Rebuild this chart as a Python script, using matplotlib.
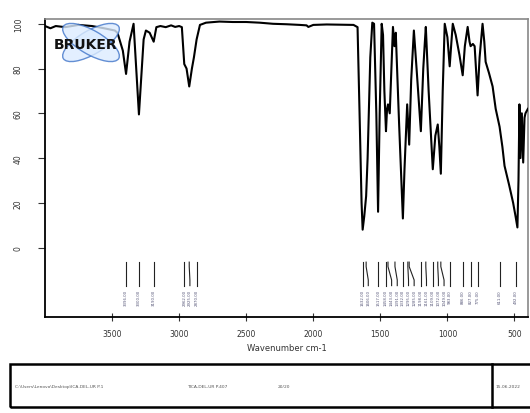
"""
IR spectrum (Bruker OPUS style) with peak picks and footer box.
"""
import numpy as np
import matplotlib
matplotlib.use('Agg')
import matplotlib.pyplot as plt
from matplotlib.patches import Ellipse, Rectangle

# spectrum: wavenumber (cm-1) / transmittance (%)
wavenumber = [4000, 3960, 3920, 3850, 3750, 3650, 3560, 3480, 3460, 3420, 3396, 3370,
              3340, 3300, 3265, 3248, 3220, 3190, 3170, 3140, 3100, 3060, 3030, 3000,
              2980, 2962, 2945, 2925, 2905, 2890, 2870, 2845, 2800, 2700, 2600, 2500,
              2400, 2300, 2200, 2100, 2050, 2037, 2000, 1900, 1800, 1700, 1670, 1655,
              1640, 1632, 1620, 1606, 1595, 1575, 1560, 1547, 1530, 1517, 1505, 1490,
              1480, 1470, 1458, 1450, 1443, 1430, 1406, 1395, 1385, 1360, 1332, 1320,
              1300, 1285, 1270, 1250, 1230, 1198, 1180, 1168, 1161, 1140, 1109, 1090,
              1072, 1060, 1049, 1035, 1020, 1000, 983, 970, 960, 938, 910, 886,
              870, 849, 835, 827, 810, 797, 787, 775, 760, 738, 725, 715,
              690, 663, 640, 611, 590, 574, 540, 510, 492, 478, 470, 463,
              455, 445, 435, 425, 418, 400]
transmittance = [99, 98, 99, 98.5, 99.5, 99, 98, 97, 96, 88, 77.6, 92,
                 100, 59.5, 93, 97, 96, 92, 98.5, 99, 98.5, 99.3, 98.6, 99,
                 98.5, 82, 80, 72, 80, 85, 93, 99.5, 100.5, 101, 100.8, 100.8,
                 100.5, 100, 99.8, 99.5, 99.3, 98.6, 99.5, 99.7, 99.6, 99.5, 98.5, 60,
                 20, 8, 14, 23, 40, 85, 100.5, 100, 60, 16, 60, 100,
                 95, 70, 52, 62, 64, 60, 98.6, 90, 96, 55, 13, 35,
                 64, 46, 75, 97, 80, 52, 80, 92, 98.6, 70, 35, 50,
                 55, 45, 33, 70, 100, 94, 81, 92, 100, 95, 86, 77,
                 90, 98.6, 92, 90, 91, 90, 80, 68, 85, 100, 92, 83,
                 78, 72, 62, 54, 45, 36.5, 28, 20, 14, 9, 30, 64,
                 40, 60, 38, 58, 60, 62]

# peak picks
peaks = [3396, 3300, 3190, 2962, 2925, 2870,
         1632, 1606, 1517, 1458, 1443, 1391, 1332, 1295, 1285, 1198, 1161,
         1109, 1072, 1049, 983, 886, 827, 775, 611, 492]

xticks = [3500, 3000, 2500, 2000, 1500, 1000, 500]
yticks = [0, 20, 40, 60, 80, 100]

footer_path = 'C:\\Users\\Lenovo\\Desktop\\ICA-DEL-UR P.1'
footer_sample = 'TICA-DEL-UR P.407'
footer_mode = '20/20'
footer_date = '15.06.2022'

fig = plt.figure(figsize=(5.3, 4.14), dpi=100)
ax = fig.add_axes([0.085, 0.232, 0.911, 0.720])

ax.plot(wavenumber, transmittance, color='black', lw=1.5, zorder=3)

# peak marker lines; labels pushed apart so they don't collide
sep = 42
lab_pos = []
for p in peaks:
    lp = p if not lab_pos else min(p, lab_pos[-1] - sep)
    lab_pos.append(lp)
for p, lp in zip(peaks, lab_pos):
    ax.plot([p, p, lp, lp], [-6.5, -8.5, -14.5, -17], color='#222222', lw=0.8)
    ax.text(lp, -18.5, f'{p:.2f}', rotation=90, ha='center', va='top',
            fontsize=2.8, color='#555577')

ax.set_xlim(4000, 400)
ax.set_ylim(-31, 102.2)
ax.set_xticks(xticks)
ax.set_yticks(yticks)
ax.set_yticklabels([str(v) for v in yticks], rotation=90, va='center')
ax.tick_params(axis='y', direction='out', length=5, pad=11, labelsize=5.5, colors='#333333')
ax.tick_params(axis='x', direction='inout', length=6, pad=6, labelsize=5.5, colors='#333333')
ax.set_xlabel('Wavenumber cm-1', fontsize=6, color='#333333', labelpad=3)

for s in ['top', 'right']:
    ax.spines[s].set_color('#888888')
    ax.spines[s].set_linewidth(1.2)
for s in ['left', 'bottom']:
    ax.spines[s].set_color('black')
    ax.spines[s].set_linewidth(1.3)

# Bruker logo (pixel positions converted to inches)
H = 4.14
for ang in (30, -30):
    e = Ellipse((0.91, H - 0.435), 0.64, 0.24, angle=ang, transform=fig.dpi_scale_trans,
                facecolor='#dcecff', edgecolor='#3f74c9', lw=1.0, alpha=0.8, zorder=4)
    fig.add_artist(e)
fig.text(0.86, H - 0.45, 'BRUKER', transform=fig.dpi_scale_trans, ha='center', va='center',
         fontsize=10, fontweight='bold', color='#111111', zorder=5)

# footer box
fig.add_artist(Rectangle((10 / 530, 6 / 414), 0.99, 43 / 414, transform=fig.transFigure,
                         fill=False, edgecolor='black', lw=1.8))
fig.add_artist(plt.Line2D([492 / 530, 492 / 530], [6 / 414, 49 / 414],
                          transform=fig.transFigure, color='black', lw=1.8))
fy = 1 - 387 / 414
fig.text(15 / 530, fy, footer_path, fontsize=3.2, color='#555555', va='center')
fig.text(187 / 530, fy, footer_sample, fontsize=3.2, color='#555555', va='center')
fig.text(278 / 530, fy, footer_mode, fontsize=3.2, color='#555555', va='center')
fig.text(496 / 530, fy, footer_date, fontsize=3.2, color='#555555', va='center')

plt.savefig('out.png', dpi=100)
plt.close()
